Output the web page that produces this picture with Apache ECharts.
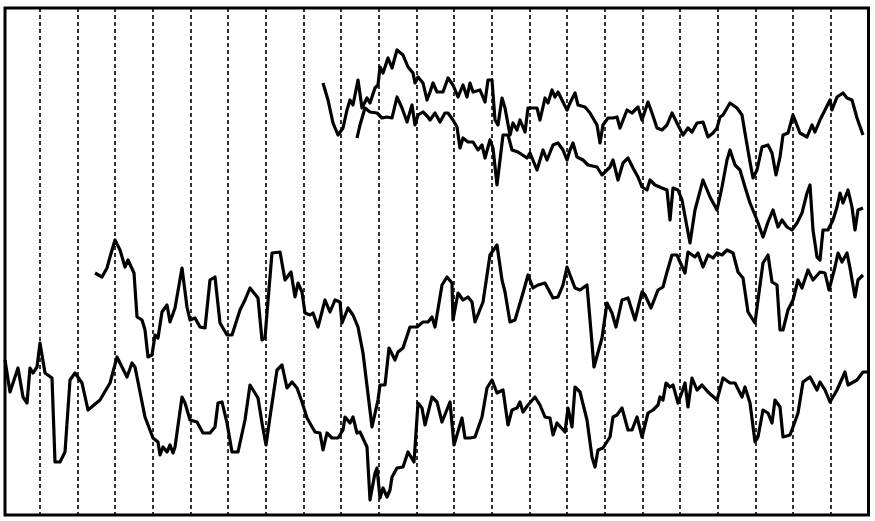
<!DOCTYPE html>
<html>
<head>
<meta charset="utf-8">
<script src="https://cdn.jsdelivr.net/npm/echarts@6/dist/echarts.min.js"></script>
<style>
  html, body { margin: 0; padding: 0; background: #fff; }
  #chart { width: 875px; height: 521px; }
</style>
</head>
<body>
<div id="chart"></div>
<script>
// 四条序列, [x, y] 读图估计
const seriesA = [
  [5,155],[10,123],[18,147],[23,118],[27,112],[30,147],[33,142],[37,148],[40,172],[45,142],
  [52,137],[55,53],[60,53],[65,63],[70,135],[75,142],[82,132],[88,105],[100,115],[110,132],
  [117,158],[127,138],[132,152],[135,148],[145,98],[153,77],[158,73],[160,60],[163,68],[167,63],
  [170,70],[173,62],[175,68],[182,118],[185,112],[190,95],[197,93],[203,82],[210,82],[215,88],
  [218,112],[222,113],[227,92],[232,63],[238,63],[245,95],[250,130],[258,117],[262,92],[266,70],
  [270,98],[277,145],[282,150],[287,127],[292,133],[297,127],[302,113],[307,97],[315,83],[320,82],
  [323,65],[327,82],[332,77],[338,77],[343,85],[345,98],[350,92],[353,98],[357,82],[360,83],
  [367,68],[370,15],[375,42],[377,47],[380,17],[383,27],[387,18],[390,25],[392,38],[397,47],
  [403,48],[408,63],[414,53],[418,112],[422,107],[425,90],[432,118],[437,113],[442,93],[450,113],
  [452,115],[454,70],[462,97],[465,77],[470,77],[475,78],[482,98],[487,127],[492,135],[497,122],
  [503,125],[508,90],[512,105],[517,107],[520,113],[523,103],[528,110],[535,118],[540,110],[545,98],
  [550,97],[553,80],[557,92],[565,83],[568,107],[572,88],[575,128],[580,123],[587,95],[592,58],
  [595,48],[598,65],[603,67],[610,78],[613,98],[617,100],[622,107],[628,85],[632,85],[637,98],
  [642,78],[648,102],[653,105],[658,110],[660,118],[663,115],[666,132],[670,128],[673,130],[678,112],
  [682,123],[685,132],[688,108],[692,137],[697,125],[702,130],[708,123],[717,115],[723,137],[730,132],
  [735,132],[742,118],[745,128],[750,112],[755,73],[758,78],[763,105],[768,102],[772,92],[775,115],
  [780,108],[783,78],[790,80],[793,88],[798,102],[803,133],[810,138],[817,125],[820,133],[825,125],
  [830,113],[837,125],[845,143],[848,130],[857,135],[863,143],[868,143]
]

const seriesB = [
  [95,242],[102,238],[107,247],[110,258],[115,275],[120,265],[125,248],[128,255],[134,242],[137,198],
  [142,195],[145,185],[148,158],[152,160],[155,180],[158,177],[162,203],[167,210],[170,193],[175,207],
  [182,247],[187,208],[190,195],[195,197],[200,188],[205,187],[210,235],[215,238],[220,192],[227,180],
  [232,180],[240,205],[245,215],[250,227],[258,217],[262,175],[265,177],[267,202],[272,262],[273,263],
  [280,263],[285,235],[291,243],[295,218],[298,232],[302,223],[305,202],[310,200],[313,202],[318,188],
  [325,215],[330,203],[335,215],[340,213],[342,192],[348,207],[353,200],[358,188],[363,162],[372,88],
  [378,115],[380,130],[385,130],[389,167],[395,155],[398,163],[403,167],[410,188],[417,188],[423,193],
  [428,193],[432,198],[435,188],[442,230],[447,238],[452,232],[453,195],[458,222],[463,215],[468,218],
  [472,213],[475,193],[483,213],[490,260],[497,270],[502,235],[505,223],[510,193],[515,195],[523,222],
  [528,240],[533,227],[538,230],[545,232],[553,217],[558,218],[563,230],[567,248],[575,227],[580,225],
  [587,230],[590,195],[594,148],[602,177],[607,212],[612,202],[616,188],[622,215],[628,217],[635,195],
  [642,223],[645,220],[651,207],[658,225],[663,228],[667,243],[672,260],[677,260],[680,253],[685,242],
  [688,263],[695,258],[698,262],[703,248],[708,260],[713,257],[717,262],[722,260],[727,265],[733,262],
  [738,243],[743,237],[748,203],[755,192],[758,215],[763,252],[768,260],[772,233],[777,230],[780,185],
  [783,185],[788,205],[793,215],[798,235],[802,227],[808,245],[813,235],[820,243],[825,242],[829,225],
  [835,248],[838,262],[842,253],[847,262],[850,247],[855,218],[858,235],[863,240]
]

const seriesC = [
  [323,432],[328,415],[333,392],[338,380],[343,387],[347,405],[350,415],[353,410],[358,435],[362,407],
  [367,417],[370,412],[375,427],[378,430],[380,448],[383,442],[388,457],[392,447],[397,465],[403,460],
  [408,448],[413,442],[415,432],[418,438],[423,432],[427,415],[430,423],[433,432],[437,423],[443,423],
  [448,437],[453,430],[458,418],[463,430],[467,418],[470,432],[473,423],[480,425],[485,413],[488,435],
  [492,435],[495,395],[498,390],[502,417],[505,407],[510,380],[513,392],[517,385],[520,395],[525,383],
  [528,407],[537,407],[540,395],[545,417],[548,412],[552,425],[555,418],[558,423],[562,415],[567,405],
  [570,412],[575,422],[578,410],[585,408],[590,402],[597,390],[600,372],[603,390],[608,397],[613,397],
  [617,398],[620,387],[627,405],[632,402],[638,408],[642,395],[648,413],[652,402],[657,387],[662,385],
  [667,390],[672,402],[677,392],[683,380],[688,387],[692,383],[697,392],[703,393],[708,378],[713,382],
  [717,387],[720,398],[723,400],[730,412],[737,407],[742,400],[745,382],[750,353],[753,337],[757,345],
  [762,368],[768,370],[772,362],[776,340],[780,358],[783,380],[788,382],[793,400],[800,382],[807,378],
  [812,390],[815,383],[820,395],[825,405],[830,415],[832,405],[837,418],[843,422],[847,417],[852,415],
  [857,397],[863,380]
]

const seriesD = [
  [357,377],[360,390],[365,407],[370,403],[377,402],[382,397],[387,398],[392,397],[397,418],[402,407],
  [407,393],[412,410],[415,390],[418,400],[423,403],[428,398],[430,395],[435,402],[440,393],[445,402],
  [448,402],[453,395],[457,388],[460,367],[463,377],[468,373],[473,373],[478,365],[482,370],[485,357],
  [490,375],[493,367],[497,330],[500,355],[503,380],[508,380],[512,365],[518,363],[527,357],[530,362],
  [537,345],[543,365],[547,355],[553,370],[558,372],[563,365],[567,355],[570,365],[573,372],[577,358],
  [583,355],[588,350],[597,348],[602,340],[610,348],[613,355],[618,335],[623,352],[628,357],[633,347],
  [638,338],[642,328],[647,325],[650,335],[655,330],[662,327],[667,325],[670,295],[673,327],[678,325],
  [682,315],[687,288],[690,272],[695,305],[703,335],[710,318],[717,305],[722,328],[727,355],[730,365],
  [735,350],[740,345],[745,328],[750,312],[757,295],[763,278],[768,293],[773,305],[778,288],[782,295],
  [787,288],[792,285],[797,292],[802,302],[807,322],[810,330],[813,285],[817,258],[820,255],[823,285],
  [828,285],[833,295],[837,308],[840,322],[843,312],[848,325],[852,308],[855,285],[858,305],[863,307]
]

// 竖向虚线网格: 从右边框往左每格一条
const gridCount = 22.92

const chart = echarts.init(document.getElementById('chart'))

function lineSeries(data) {
  return {
    type: 'line',
    data: data,
    xAxisIndex: 0,
    yAxisIndex: 0,
    showSymbol: false,
    silent: true,
    lineStyle: {
      color: '#000',
      width: 3.2,
      join: 'round'
    }
  }
}

const option = {
  animation: false,
  backgroundColor: '#fff',
  grid: {
    left: 5,
    right: 6.5,
    top: 8,
    bottom: 6,
    show: true,
    borderColor: '#000',
    borderWidth: 3,
    backgroundColor: '#fff'
  },
  xAxis: [
    {
      type: 'value',
      min: 5,
      max: 868.5,
      axisLine: { show: false },
      axisTick: { show: false },
      axisLabel: { show: false },
      splitLine: { show: false }
    },
    {
      type: 'value',
      inverse: true,
      min: 0,
      max: gridCount,
      interval: 1,
      axisLine: { show: false },
      axisTick: { show: false },
      axisLabel: { show: false },
      splitLine: {
        show: true,
        lineStyle: {
          color: '#000',
          width: 1.6,
          type: [4, 3]
        }
      }
    }
  ],
  yAxis: {
    type: 'value',
    min: 0,
    max: 507,
    axisLine: { show: false },
    axisTick: { show: false },
    axisLabel: { show: false },
    splitLine: { show: false }
  },
  series: [
    lineSeries(seriesA),
    lineSeries(seriesB),
    lineSeries(seriesC),
    lineSeries(seriesD)
  ]
}

chart.setOption(option)

window.addEventListener('resize', () => {
  chart.resize()
})
</script>
</body>
</html>
